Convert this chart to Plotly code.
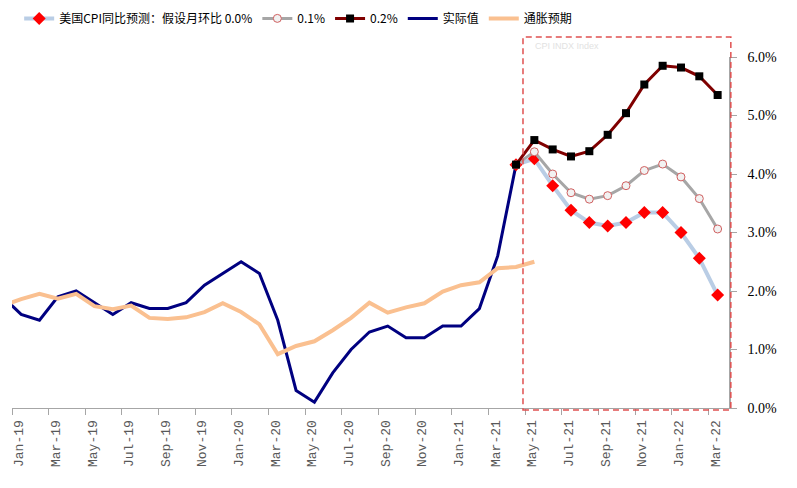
"""
US CPI YoY: actual, inflation expectations and forecast scenarios.
"""

import pandas as pd
import plotly.graph_objects as go

# Monthly positions: Dec-18 .. Mar-22 (Jan-19 -> 0)
months = pd.period_range("2018-12", "2022-03", freq="M")
month_pos = {str(p): i - 1 for i, p in enumerate(months)}

tick_labels = [
    "Jan-19", "Mar-19", "May-19", "Jul-19", "Sep-19", "Nov-19",
    "Jan-20", "Mar-20", "May-20", "Jul-20", "Sep-20", "Nov-20",
    "Jan-21", "Mar-21", "May-21", "Jul-21", "Sep-21", "Nov-21",
    "Jan-22", "Mar-22",
]

# 实际值 (Dec-18 .. Apr-21)
actual = [
    1.9, 1.6, 1.5, 1.9, 2.0, 1.8, 1.6, 1.8, 1.7, 1.7, 1.8, 2.1, 2.3,
    2.5, 2.3, 1.5, 0.3, 0.1, 0.6, 1.0, 1.3, 1.4, 1.2, 1.2, 1.4,
    1.4, 1.7, 2.6, 4.16,
]

# 通胀预期 (Dec-18 .. May-21)
expect = [
    1.75, 1.86, 1.95, 1.87, 1.95, 1.74, 1.69, 1.75, 1.54, 1.52, 1.55, 1.64, 1.79,
    1.64, 1.43, 0.92, 1.06, 1.14, 1.33, 1.54, 1.80, 1.63, 1.72, 1.79, 1.99,
    2.10, 2.15, 2.39, 2.41, 2.50,
]

# Forecast scenarios (Apr-21 .. Mar-22)
fc_00 = [4.16, 4.26, 3.80, 3.38, 3.17, 3.11, 3.17, 3.34, 3.34, 3.00, 2.56, 1.93]
fc_01 = [4.16, 4.38, 4.00, 3.68, 3.57, 3.63, 3.80, 4.06, 4.17, 3.95, 3.58, 3.06]
fc_02 = [4.16, 4.58, 4.42, 4.30, 4.39, 4.67, 5.04, 5.53, 5.85, 5.82, 5.67, 5.35]

x_all = list(month_pos.values())
x_actual = x_all[: len(actual)]
x_expect = x_all[: len(expect)]
x_fc = x_all[len(actual) - 1:]

X_MIN, X_MAX = -0.5, 38.62

fig = go.Figure()

fig.add_trace(
    go.Scatter(
        x=x_actual, y=actual, name="实际值", mode="lines",
        line=dict(color="#000080", width=3), legendrank=4,
    )
)
fig.add_trace(
    go.Scatter(
        x=x_expect, y=expect, name="通胀预期", mode="lines",
        line=dict(color="#FAC090", width=4), legendrank=5,
    )
)
fig.add_trace(
    go.Scatter(
        x=x_fc, y=fc_00, name="美国CPI同比预测：假设月环比 0.0%",
        mode="lines+markers",
        line=dict(color="#B9CDE5", width=4),
        marker=dict(symbol="diamond", size=10, color="#FF0000"),
        legendrank=1,
    )
)
fig.add_trace(
    go.Scatter(
        x=x_fc, y=fc_01, name="0.1%", mode="lines+markers",
        line=dict(color="#A6A6A6", width=3),
        marker=dict(symbol="circle", size=8, color="#F2F2F2",
                    line=dict(color="#D06060", width=1)),
        legendrank=2,
    )
)
fig.add_trace(
    go.Scatter(
        x=x_fc, y=fc_02, name="0.2%", mode="lines+markers",
        line=dict(color="#800000", width=3),
        marker=dict(symbol="square", size=8, color="#000000"),
        legendrank=3,
    )
)

# Forecast window box (between Apr-21 and May-21 up to the end)
box_x0 = (month_pos["2021-05"] - 0.62 - X_MIN) / (X_MAX - X_MIN)
box_x1 = (month_pos["2022-03"] + 0.72 - X_MIN) / (X_MAX - X_MIN)
fig.add_shape(
    type="rect", xref="paper", yref="paper",
    x0=box_x0, x1=box_x1, y0=-0.006, y1=1.057,
    line=dict(color="#E05050", width=1.5, dash="6px,4px"),
)
fig.add_annotation(
    text="CPI INDX Index", xref="paper", yref="paper",
    x=box_x0 + 0.014, y=1.03, xanchor="left", yanchor="middle",
    showarrow=False, font=dict(size=9, color="#E2E2E2", family="Arial"),
)

tick_vals = [month_pos[pd.Period(t, "M").strftime("%Y-%m")] - 0.5
             for t in pd.to_datetime(tick_labels, format="%b-%y")]

# page body keeps an 8px margin, so the figure is a bit smaller than the window
fig.update_layout(
    width=789,
    height=480,
    margin=dict(l=4, r=68, t=49, b=80, autoexpand=False),
    plot_bgcolor="white",
    paper_bgcolor="white",
    showlegend=True,
    legend=dict(
        orientation="h", x=0.01, y=1.11, xanchor="left", yanchor="middle",
        font=dict(size=12, family="Noto Sans CJK SC", color="#000000"),
        itemwidth=30, bgcolor="rgba(0,0,0,0)",
    ),
    xaxis=dict(
        range=[X_MIN, X_MAX],
        tickvals=tick_vals,
        ticktext=tick_labels,
        tickangle=-90,
        ticks="outside",
        ticklen=6,
        tickcolor="#A6A6A6",
        showline=True,
        linecolor="#A6A6A6",
        linewidth=1,
        showgrid=False,
        zeroline=False,
        automargin=False,
        ticklabeloverflow="allow",
        ticklabelshift=7,
        tickfont=dict(size=13, family="Liberation Mono", color="#595959"),
    ),
    yaxis=dict(
        range=[0, 6],
        side="right",
        dtick=1,
        tickformat=".1f",
        ticksuffix="%",
        ticks="outside",
        ticklen=6,
        tickcolor="#A6A6A6",
        showline=True,
        linecolor="#A6A6A6",
        linewidth=1.5,
        showgrid=False,
        zeroline=False,
        automargin=False,
        ticklabelstandoff=8,
        tickfont=dict(size=14, family="Liberation Serif", color="#000000"),
    ),
)

fig.write_html("out.html")
